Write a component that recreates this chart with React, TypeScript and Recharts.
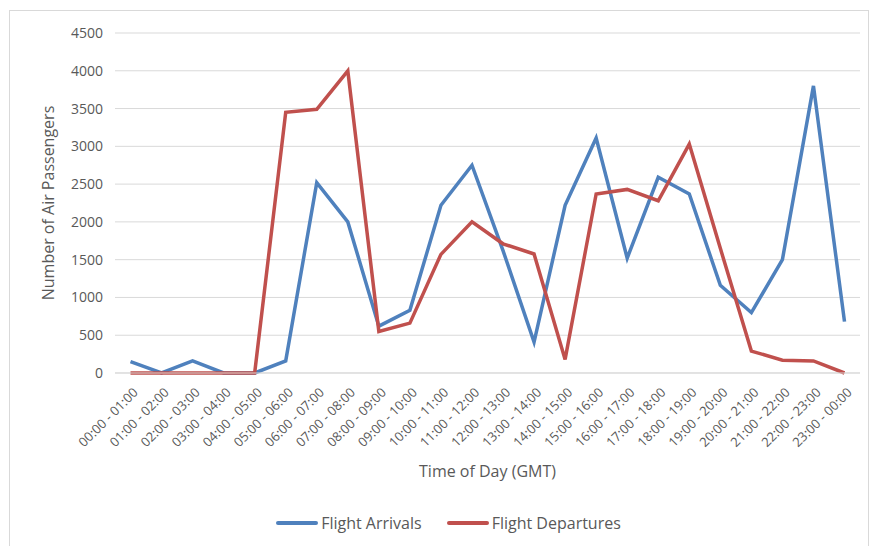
import React from 'react';
import { LineChart, Line, XAxis, YAxis, CartesianGrid, Legend } from 'recharts';

const timeSlots = [
  '00:00 - 01:00', '01:00 - 02:00', '02:00 - 03:00', '03:00 - 04:00', '04:00 - 05:00',
  '05:00 - 06:00', '06:00 - 07:00', '07:00 - 08:00', '08:00 - 09:00', '09:00 - 10:00',
  '10:00 - 11:00', '11:00 - 12:00', '12:00 - 13:00', '13:00 - 14:00', '14:00 - 15:00',
  '15:00 - 16:00', '16:00 - 17:00', '17:00 - 18:00', '18:00 - 19:00', '19:00 - 20:00',
  '20:00 - 21:00', '21:00 - 22:00', '22:00 - 23:00', '23:00 - 00:00',
];

const arrivals = [
  150, 0, 160, 0, 0, 160, 2520, 2000, 620, 830, 2220, 2750,
  1620, 410, 2220, 3110, 1520, 2590, 2370, 1160, 800, 1500, 3800, 680,
];

const departures = [
  0, 0, 0, 0, 0, 3450, 3490, 4000, 550, 660, 1570, 2000,
  1710, 1575, 180, 2370, 2430, 2280, 3030, 1650, 290, 170, 160, 0,
];

const yTicks = [0, 500, 1000, 1500, 2000, 2500, 3000, 3500, 4000, 4500];

const seriesNames = { arr: 'Flight Arrivals', dep: 'Flight Departures' };
const colors = { arr: '#4F81BD', dep: '#C0504D' };

const data = timeSlots.map((t, i) => ({ slot: t, arr: arrivals[i], dep: departures[i] }));

const FONT = '"Open Sans", "DejaVu Sans", sans-serif';
const TEXT = '#595959';

const XTick = (props: any) => {
  const { x, y, payload } = props;
  return (
    <g transform={`translate(${x + 5},${y + 9})`}>
      <text
        transform="rotate(-45)"
        textAnchor="end"
        dy="0.35em"
        fill={TEXT}
        fontSize={13}
        fontFamily={FONT}
      >
        {payload.value}
      </text>
    </g>
  );
};

const LegendContent = () => (
  <div
    style={{
      display: 'flex',
      justifyContent: 'center',
      alignItems: 'center',
      height: 40,
      paddingLeft: 27,
      fontFamily: FONT,
      fontSize: 16,
      color: TEXT,
    }}
  >
    {(['arr', 'dep'] as const).map((k, i) => (
      <div key={k} style={{ display: 'flex', alignItems: 'center', marginLeft: i === 0 ? 0 : 25 }}>
        <div style={{ width: 42, height: 4, borderRadius: 2, background: colors[k], marginRight: 3 }} />
        <span>{seriesNames[k]}</span>
      </div>
    ))}
  </div>
);

export default function App() {
  return (
    <div
      style={{
        position: 'absolute',
        left: 9,
        top: 10,
        width: 858,
        height: 540,
        border: '1px solid #d9d9d9',
        background: '#fff',
      }}
    >
      <LineChart
        width={858}
        height={536}
        data={data}
        margin={{ top: 22, right: 8, left: 0, bottom: 4 }}
      >
        <CartesianGrid vertical={false} stroke="#d9d9d9" strokeWidth={1} />
        <XAxis
          dataKey="slot"
          interval={0}
          height={130}
          padding={{ left: 15.5, right: 15.5 }}
          axisLine={{ stroke: '#d9d9d9' }}
          tickLine={false}
          tick={<XTick />}
          label={{
            value: 'Time of Day (GMT)',
            position: 'insideBottom',
            offset: 26,
            fill: TEXT,
            fontSize: 16,
            fontFamily: FONT,
          }}
        />
        <YAxis
          width={105}
          domain={[0, 4500]}
          ticks={yTicks}
          interval={0}
          axisLine={false}
          tickLine={false}
          tickMargin={6}
          tick={{ fill: TEXT, fontSize: 14, fontFamily: FONT }}
          label={{
            value: 'Number of Air Passengers',
            angle: -90,
            position: 'insideLeft',
            offset: 38,
            fill: TEXT,
            fontSize: 16,
            fontFamily: FONT,
            style: { textAnchor: 'middle' },
          }}
        />
        <Legend verticalAlign="bottom" content={<LegendContent />} />
        <Line
          type="linear"
          dataKey="arr"
          name={seriesNames.arr}
          stroke={colors.arr}
          strokeWidth={3.5}
          dot={false}
          activeDot={false}
          isAnimationActive={false}
        />
        <Line
          type="linear"
          dataKey="dep"
          name={seriesNames.dep}
          stroke={colors.dep}
          strokeWidth={3.5}
          dot={false}
          activeDot={false}
          isAnimationActive={false}
        />
      </LineChart>
    </div>
  );
}
